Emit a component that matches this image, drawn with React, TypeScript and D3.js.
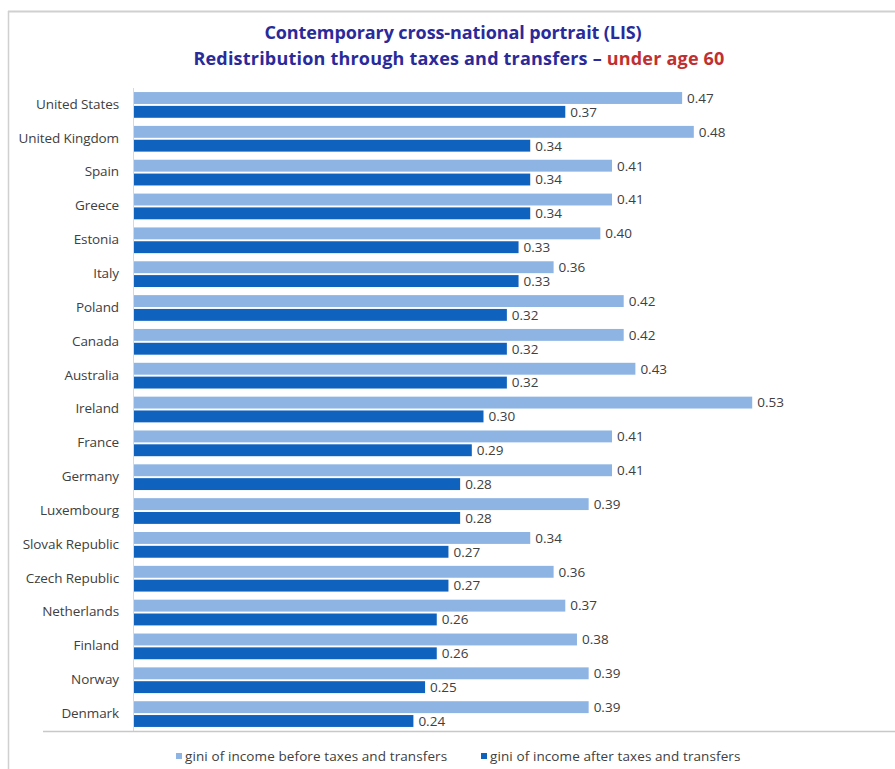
import React from "react";
import * as d3 from "d3";

const countries = [
  "United States", "United Kingdom", "Spain", "Greece", "Estonia", "Italy", "Poland",
  "Canada", "Australia", "Ireland", "France", "Germany", "Luxembourg", "Slovak Republic",
  "Czech Republic", "Netherlands", "Finland", "Norway", "Denmark",
];
const beforeValues = [0.47, 0.48, 0.41, 0.41, 0.40, 0.36, 0.42, 0.42, 0.43, 0.53, 0.41, 0.41, 0.39, 0.34, 0.36, 0.37, 0.38, 0.39, 0.39];
const afterValues = [0.37, 0.34, 0.34, 0.34, 0.33, 0.33, 0.32, 0.32, 0.32, 0.30, 0.29, 0.28, 0.28, 0.27, 0.27, 0.26, 0.26, 0.25, 0.24];
const seriesNames = ["gini of income before taxes and transfers", "gini of income after taxes and transfers"];
const seriesColors = ["#8EB4E3", "#0F63BF"];

const W = 895;
const H = 769;
const FONT = "'Open Sans', 'Noto Sans', sans-serif";

export default function App() {
  const x = d3.scaleLinear().domain([0, 0.6]).range([133, 834]);
  const y = d3.scaleBand<string>().domain(countries).range([88, 731]).paddingInner(0.24).paddingOuter(0.12);
  const inner = d3.scaleBand<string>().domain(["b", "a"]).range([0, y.bandwidth()]).paddingInner(0.14);
  const fmt = d3.format(".2f");

  return (
    <svg width={W} height={H} style={{ position: "absolute", left: 0, top: 0 }}>
      <rect x={0} y={0} width={W} height={H} fill="#fff" />
      <line x1={8} x2={W} y1={11.5} y2={11.5} stroke="#d0d0d0" strokeWidth={2} />
      <line x1={8.5} x2={8.5} y1={11} y2={H} stroke="#d0d0d0" strokeWidth={1.5} />
      <text x={453} y={39} textAnchor="middle" fontFamily={FONT} fontWeight="bold" fontSize={18} letterSpacing={-0.1} fill="#2a2a9a">
        Contemporary cross-national portrait (LIS)
      </text>
      <text x={459} y={65} textAnchor="middle" fontFamily={FONT} fontWeight="bold" fontSize={18} letterSpacing={0.2} fill="#2a2a9a">
        Redistribution through taxes and transfers – <tspan fill="#c0302f">under age 60</tspan>
      </text>
      {countries.map((c, i) => {
        const y0 = y(c)!;
        const vals = [beforeValues[i], afterValues[i]];
        return (
          <g key={c}>
            {vals.map((v, j) => {
              const yy = y0 + inner(j === 0 ? "b" : "a")!;
              return (
                <g key={j}>
                  <rect x={x(0)} y={yy} width={x(v) - x(0)} height={inner.bandwidth()} fill={seriesColors[j]} />
                  <text x={x(v) + 5} y={yy + inner.bandwidth() / 2} dy="0.36em" fontFamily={FONT} fontSize={13.5} fill="#404040">
                    {fmt(v)}
                  </text>
                </g>
              );
            })}
            <text x={119} y={y0 + y.bandwidth() / 2 - 1} dy="0.36em" textAnchor="end" fontFamily={FONT} fontSize={13.5} letterSpacing={-0.1} fill="#404040">
              {c}
            </text>
          </g>
        );
      })}
      <line x1={133.5} x2={133.5} y1={88} y2={731} stroke="#d9d9d9" strokeWidth={1} />
      <line x1={43} x2={W} y1={731.5} y2={731.5} stroke="#c8c8c8" strokeWidth={1.5} />
      {seriesNames.map((s, j) => {
        const lx = j === 0 ? 176 : 481;
        return (
          <g key={s}>
            <rect x={lx} y={753} width={6} height={6} fill={seriesColors[j]} />
            <text x={lx + 9} y={756} dy="0.36em" fontFamily={FONT} fontSize={13.5} letterSpacing={0.1} fill="#404040">{s}</text>
          </g>
        );
      })}
    </svg>
  );
}
